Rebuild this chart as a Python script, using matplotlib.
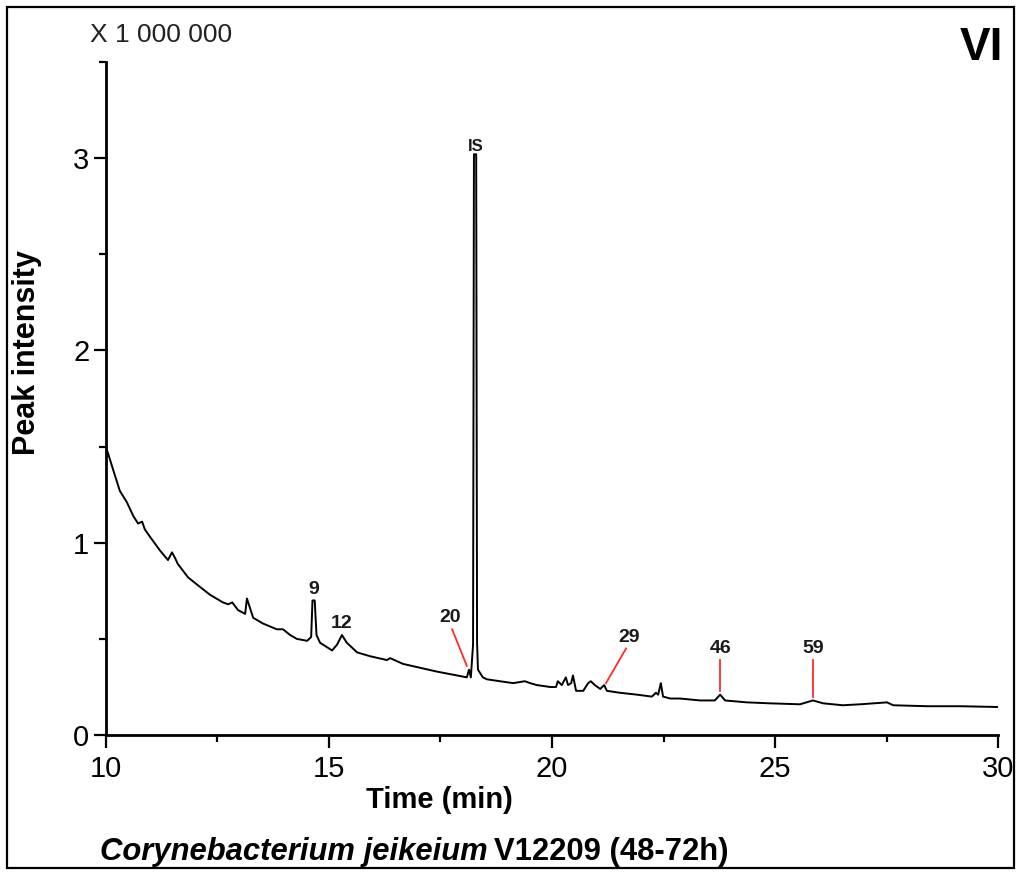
import matplotlib
matplotlib.use('Agg')
import matplotlib.pyplot as plt
from matplotlib.patches import Rectangle
from matplotlib.ticker import MultipleLocator

plt.rcParams['font.family'] = ['Liberation Sans', 'DejaVu Sans']

# chromatogram trace: retention time (min) and intensity (x 1 000 000)
time_min = [10.00, 10.04, 10.16, 10.31, 10.47, 10.61, 10.72, 10.81, 10.87, 10.99,
            11.21, 11.39, 11.48, 11.55, 11.61, 11.84, 12.11, 12.33, 12.62, 12.74,
            12.83, 12.96, 13.12, 13.16, 13.23, 13.30, 13.52, 13.83, 13.97, 14.13,
            14.28, 14.51, 14.60, 14.63, 14.68, 14.72, 14.80, 15.07, 15.18, 15.29,
            15.40, 15.63, 15.92, 16.30, 16.37, 16.66, 17.04, 17.42, 17.87, 18.09,
            18.14, 18.18, 18.23, 18.25, 18.30, 18.32, 18.34, 18.45, 18.54, 18.83,
            19.13, 19.39, 19.51, 19.66, 19.96, 20.09, 20.13, 20.22, 20.31, 20.36,
            20.43, 20.47, 20.54, 20.70, 20.81, 20.87, 20.96, 21.08, 21.17, 21.23,
            21.52, 21.91, 22.24, 22.33, 22.38, 22.44, 22.49, 22.65, 22.87, 23.32,
            23.65, 23.77, 23.88, 24.37, 24.89, 25.56, 25.85, 26.08, 26.52, 26.91,
            27.51, 27.65, 28.41, 29.15, 29.98]
intensity = [1.49, 1.47, 1.38, 1.27, 1.21, 1.14, 1.10, 1.11, 1.07, 1.03,
             0.96, 0.91, 0.95, 0.92, 0.89, 0.82, 0.77, 0.73, 0.69, 0.68,
             0.69, 0.65, 0.63, 0.71, 0.66, 0.61, 0.58, 0.55, 0.55, 0.52,
             0.50, 0.49, 0.51, 0.70, 0.70, 0.52, 0.48, 0.44, 0.47, 0.52,
             0.48, 0.43, 0.41, 0.39, 0.40, 0.37, 0.35, 0.33, 0.31, 0.30,
             0.34, 0.30, 0.47, 3.02, 3.02, 0.48, 0.34, 0.30, 0.29, 0.28,
             0.27, 0.28, 0.27, 0.26, 0.25, 0.25, 0.28, 0.26, 0.30, 0.26,
             0.27, 0.31, 0.23, 0.23, 0.27, 0.28, 0.26, 0.24, 0.26, 0.23,
             0.22, 0.21, 0.20, 0.22, 0.21, 0.27, 0.20, 0.19, 0.19, 0.18,
             0.18, 0.21, 0.18, 0.17, 0.165, 0.16, 0.18, 0.165, 0.155, 0.16,
             0.17, 0.155, 0.15, 0.15, 0.146]

# labelled peaks (black labels sit right on the peak, red ones use a leader line)
black_labels = ['9', '12', 'IS']
black_times = [14.66, 15.29, 18.28]
black_heights = [0.70, 0.52, 3.02]
red_labels = ['20', '29', '46', '59']
red_times = [18.09, 21.21, 23.77, 25.85]
red_heights = [0.36, 0.27, 0.23, 0.20]

fig = plt.figure(figsize=(10.21, 8.73), dpi=100)
ax = fig.add_axes([0.1038, 0.158, 0.8737, 0.771])

ax.plot(time_min, intensity, color='black', lw=1.4)

ax.set_xlim(10, 30)
ax.set_ylim(0, 3.5)
ax.xaxis.set_major_locator(MultipleLocator(5))
ax.xaxis.set_minor_locator(MultipleLocator(2.5))
ax.yaxis.set_major_locator(MultipleLocator(1))
ax.yaxis.set_minor_locator(MultipleLocator(0.5))

for side in ['top', 'right']:
    ax.spines[side].set_visible(False)
for side in ['left', 'bottom']:
    ax.spines[side].set_linewidth(2.0)

ax.tick_params(axis='both', which='major', direction='out', length=9, width=1.6,
               labelsize=21, pad=3)
ax.tick_params(axis='both', which='minor', direction='out', length=5, width=1.6)
ax.tick_params(axis='x', which='major', pad=5)

ax.set_xlabel('Time (min)', fontsize=21, fontweight='bold')
ax.set_ylabel('Peak intensity', fontsize=22, fontweight='bold')
ax.xaxis.set_label_coords(0.374, -0.076)
ax.yaxis.set_label_coords(-0.072, 0.569)

# peak labels
black_dy = [0.015, 0.015, 0.0]
black_size = [14, 14, 12]
for lab, t, h, dy, fs in zip(black_labels, black_times, black_heights,
                             black_dy, black_size):
    ax.text(t, h + dy, lab, ha='center', va='bottom', fontsize=fs,
            fontweight='bold', color='#1a1a1a')

# leader line start (offset from peak) and label offset
lead_dx = [-0.33, 0.45, 0.0, 0.0]
lead_dy = [0.19, 0.18, 0.16, 0.19]
for lab, t, h, dx, dy in zip(red_labels, red_times, red_heights, lead_dx, lead_dy):
    ax.plot([t, t + dx], [h, h + dy], color='#ff2a2a', lw=1.3)
    ax.text(t + dx * 1.15, h + dy + 0.015, lab, ha='center', va='bottom',
            fontsize=14, fontweight='bold', color='#1a1a1a')

fig.text(0.088, 0.960, 'X 1 000 000', fontsize=19, color='#222222',
         ha='left', va='center')
fig.text(0.982, 0.945, 'VI', fontsize=33, fontweight='bold', ha='right',
         va='center')

# caption: species name in italics, strain and time window upright
cap = fig.text(0.098, 0.024, 'Corynebacterium jeikeium', fontsize=22.3,
               fontweight='bold', style='italic', ha='left', va='center')
fig.canvas.draw()
bb = cap.get_window_extent()
fig.text(bb.x1 / fig.bbox.width + 0.006, 0.024, 'V12209 (48-72h)', fontsize=22.3,
         fontweight='bold', ha='left', va='center')

# frame around the whole panel
fig.patches.append(Rectangle((0.0069, 0.0057), 0.986, 0.986, transform=fig.transFigure,
                             fill=False, edgecolor='black', lw=1.6))

fig.savefig('out.png', dpi=100)
